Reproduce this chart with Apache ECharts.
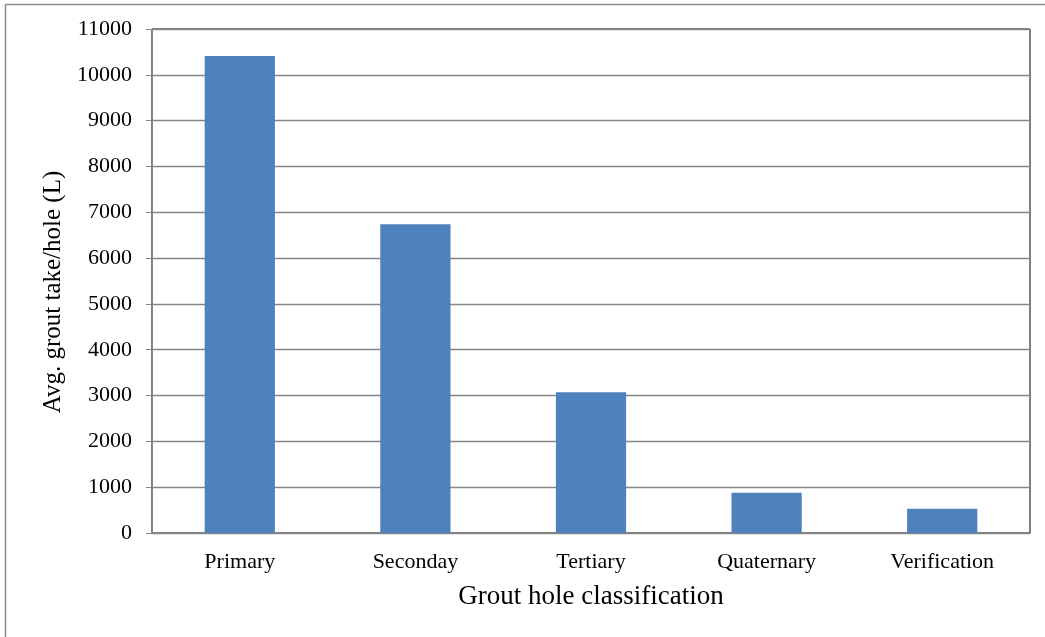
<!DOCTYPE html>
<html>
<head>
<meta charset="utf-8">
<script src="https://cdn.jsdelivr.net/npm/echarts@6/dist/echarts.min.js"></script>
<style>
  html, body { margin: 0; padding: 0; background: #fff; }
  #chart { width: 1045px; height: 637px; }
</style>
</head>
<body>
<div id="chart"></div>
<script>
// Average grout take per hole by classification
const categories = ['Primary', 'Seconday', 'Tertiary', 'Quaternary', 'Verification'];
const groutTake = [10410, 6740, 3070, 880, 530];
const yTicks = { min: 0, max: 11000, interval: 1000 };

const FONT = '"Liberation Serif", "DejaVu Serif", serif';
const chart = echarts.init(document.getElementById('chart'), null, { renderer: 'canvas' });

chart.setOption({
  animation: false,
  backgroundColor: '#ffffff',
  graphic: [
    {
      // outer chart frame (right and bottom edges run past the canvas)
      type: 'rect',
      shape: { x: 5.5, y: 4.5, width: 1100, height: 700 },
      style: { fill: 'none', stroke: '#8c8c8c', lineWidth: 1.5 },
      silent: true
    }
  ],
  grid: { left: 152, right: 15, top: 29, bottom: 104, show: true, borderColor: '#000000', borderWidth: 1, backgroundColor: 'transparent' },
  xAxis: {
    type: 'category',
    data: categories,
    name: 'Grout hole classification',
    nameLocation: 'middle',
    nameGap: 50,
    nameTextStyle: { fontFamily: FONT, fontSize: 27, color: '#000' },
    axisLine: { lineStyle: { color: '#868686', width: 1 } },
    axisTick: { show: false },
    axisLabel: { fontFamily: FONT, fontSize: 22, color: '#000', margin: 18 }
  },
  yAxis: {
    type: 'value',
    min: yTicks.min,
    max: yTicks.max,
    interval: yTicks.interval,
    name: 'Avg. grout take/hole (L)',
    nameLocation: 'middle',
    nameGap: 85,
    nameTextStyle: { fontFamily: FONT, fontSize: 25, color: '#000', padding: [0, 22, 0, 0] },
    axisLine: { show: true, lineStyle: { color: '#868686', width: 1 } },
    axisTick: { show: true, length: 6, lineStyle: { color: '#868686' } },
    axisLabel: { fontFamily: FONT, fontSize: 22, color: '#000', margin: 20, formatter: v => String(v) },
    splitLine: { lineStyle: { color: '#868686', width: 1.3 } }
  },
  series: [
    {
      type: 'bar',
      data: groutTake,
      barWidth: '40%',
      itemStyle: { color: '#4f81bd' }
    }
  ]
});
</script>
</body>
</html>
